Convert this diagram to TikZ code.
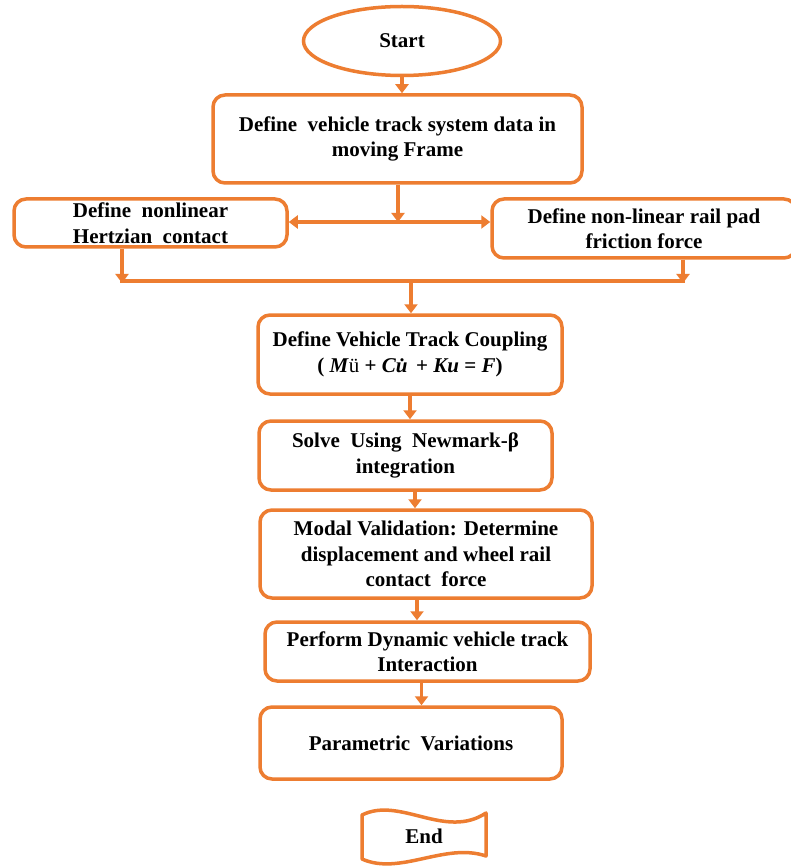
\documentclass[tikz,border=0pt]{standalone}
\usepackage{fontspec}
\setmainfont{Liberation Serif}
\usetikzlibrary{shapes.geometric,arrows.meta,calc}
\definecolor{orng}{RGB}{237,125,49}
\begin{document}
\begin{tikzpicture}[x=1pt,y=-1pt,
  line/.style={draw=orng,line width=3.5pt},
  arr/.style={line,-{Triangle[width=13pt,length=9pt]}},
  darr/.style={line,{Triangle[width=13pt,length=9pt]}-{Triangle[width=13pt,length=9pt]}},
  txt/.style={font=\fontsize{21}{25.5}\selectfont\bfseries,align=center,text=black},
  box/.style={txt,line,rounded corners=12pt,fill=white,inner sep=0pt,anchor=center},
]
\useasboundingbox[fill=white] (0,0) rectangle (790,866);

\node[txt,line,ellipse,inner sep=0pt,minimum width=197pt,minimum height=69pt] (start) at (402,41) {Start};
\node[box,minimum width=369pt,minimum height=88pt] (box1) at (397.5,139) {Define\ \ vehicle track\ system data in\\moving Frame};
\node[box,minimum width=273pt,minimum height=48pt] (left) at (150.5,223) {Define\ \ nonlinear\\Hertzian\ \ contact};
\node[box,minimum width=304pt,minimum height=59pt] (right) at (644,228.5) {Define non-linear rail pad\\friction force};
\node[box,minimum width=304pt,minimum height=79pt] (couple) at (410,354.5) {Define Vehicle Track Coupling\\( \textit{M}{\mdseries ü} + \textit{C\.{u}} + \textit{Ku} = \textit{F})};
\node[box,minimum width=293pt,minimum height=69pt] (solve) at (405.5,455.5) {Solve\ \ Using\ \ Newmark-β\\integration};
\node[box,minimum width=332pt,minimum height=88pt] (modal) at (426,554) {Modal Validation: Determine\\displacement and wheel rail\\contact\ \ force};
\node[box,minimum width=325pt,minimum height=59pt] (perform) at (427.5,651.5) {Perform Dynamic vehicle track\\Interaction};
\node[box,minimum width=302pt,minimum height=72pt] (param) at (411,743) {Parametric\ \ Variations};

\node[txt] (end) at (424,836) {End};
\draw[line,line join=round] (362,815) .. controls (400,796) and (445,840) .. (486,813)
  -- (486,856) .. controls (445,842) and (400,876) .. (362,859) -- cycle;

\coordinate (j1) at (398,222);
\coordinate (jl) at (122,281);
\coordinate (jr) at (683,281);
\coordinate (jm) at (411,281);

\draw[arr] (start.south) -- (start.south |- box1.north);
\draw[arr] (box1.south -| j1) -- (j1);
\draw[darr] (j1 -| left.east) -- (j1 -| right.west);
\draw[arr] (left.south -| jl) -- ([yshift=-2pt]jl);
\draw[arr] (right.south -| jr) -- ([yshift=-2pt]jr);
\draw[line] ([xshift=-1.75pt]jl) -- ([xshift=1.75pt]jr);
\draw[arr] (jm) -- (jm |- couple.north);
\draw[arr] (couple.south) -- (couple.south |- solve.north);
\draw[arr] ([xshift=9.5pt]solve.south) -- ([xshift=9.5pt]solve.south |- modal.north);
\draw[arr] ([xshift=-9pt]modal.south) -- ([xshift=-9pt]modal.south |- perform.north);
\draw[arr] ([xshift=-6pt]perform.south) -- ([xshift=-6pt]perform.south |- param.north);
\end{tikzpicture}
\end{document}
